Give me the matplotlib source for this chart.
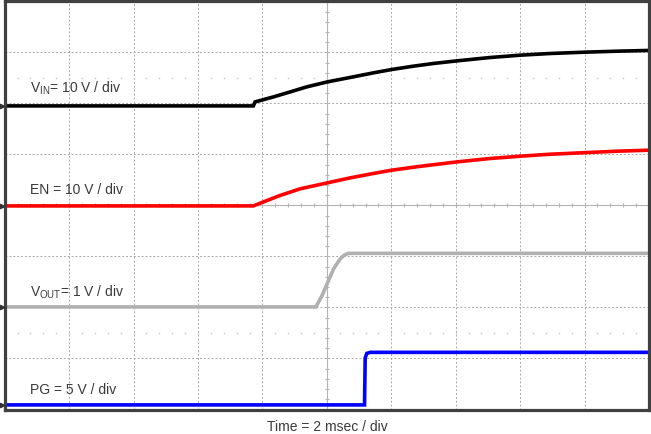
import numpy as np
import matplotlib.pyplot as plt

plt.rcParams['font.family'] = ['Liberation Sans', 'DejaVu Sans']
plt.rcParams['mathtext.fontset'] = 'custom'
plt.rcParams['mathtext.rm'] = 'Liberation Sans'

# time axis: 2 ms / div, 10 divisions
t_vin = [0.0, 7.72, 7.77, 8.34, 8.86, 9.37, 10.01, 10.72, 11.44, 12.01, 12.68,
         13.30, 14.03, 15.06, 16.0, 16.93, 17.96, 19.0, 20.0]
v_vin = [0.0, 0.0, 0.78, 1.76, 2.74, 3.72, 4.70, 5.57, 6.47, 7.13, 7.78,
         8.31, 8.82, 9.48, 9.94, 10.27, 10.52, 10.72, 10.87]               # V

t_en = [0.0, 7.72, 8.03, 8.55, 9.17, 10.01, 10.72, 11.44, 12.01, 12.89,
        14.03, 15.06, 16.0, 16.93, 17.96, 19.0, 20.0]
v_en = [0.0, 0.0, 0.78, 2.05, 3.35, 4.51, 5.49, 6.35, 7.0, 7.75,
        8.62, 9.29, 9.74, 10.13, 10.42, 10.72, 10.92]                      # V

t_vout = [0.0, 9.66, 9.85, 10.04, 10.22, 10.41, 10.53, 10.66, 20.0]
v_vout = [0.0, 0.0, 0.22, 0.50, 0.76, 0.94, 1.01, 1.05, 1.05]             # V

t_pg = [0.0, 11.17, 11.19, 11.24, 11.35, 20.0]
v_pg = [0.0, 0.0, 4.6, 5.05, 5.15, 5.15]                                   # V

# volts per division and ground marker position (div from bottom)
scale = {'vin': 10, 'en': 10, 'vout': 1, 'pg': 5}
ground = {'vin': 5.95, 'en': 3.99, 'vout': 2.01, 'pg': 0.09}
colors = {'vin': '#000000', 'en': '#ff0000', 'vout': '#b0b0b0', 'pg': '#0000ff'}

labels = {
    'vin': r'V$_{\mathrm{IN}}$= 10 V / div',
    'en': 'EN = 10 V / div',
    'vout': r'V$_{\mathrm{OUT}}$= 1 V / div',
    'pg': 'PG = 5 V / div',
}
label_y = {'vin': 93, 'en': 194, 'vout': 296.5, 'pg': 394}   # baseline px from top

W, H = 651, 434
fig = plt.figure(figsize=(W / 100, H / 100), dpi=100)
ax = fig.add_axes([4.7 / W, (H - 409.5) / H, 644.3 / W, 408.2 / H])
ax.set_xlim(0, 20)
ax.set_ylim(0, 8)

# dotted graticule
grid_c = '#a8a8a8'
for k in range(1, 10):
    if k != 5:
        ax.axvline(k * 2, color=grid_c, lw=0.7, ls=(0, (2, 2)), zorder=1)
for k in range(1, 8):
    if k != 4:
        ax.axhline(k, color=grid_c, lw=0.7, ls=(0, (2, 2)), zorder=1)

# centre cross with minor ticks
ax.axvline(10, color='#b4b4b4', lw=0.8, zorder=1)
ax.axhline(4, color='#b4b4b4', lw=0.8, zorder=1)
minor_x = np.arange(0.4, 20, 0.4)
minor_y = np.arange(0.2, 8, 0.2)
ax.plot(minor_x, np.full_like(minor_x, 4), ls='none', marker='|', ms=3.5,
        mew=0.8, color='#b4b4b4', zorder=1)
ax.plot(np.full_like(minor_y, 10), minor_y, ls='none', marker='_', ms=3.5,
        mew=0.8, color='#b4b4b4', zorder=1)
for yy in (1.5, 6.5):
    ax.plot(minor_x, np.full_like(minor_x, yy), ls='none', marker='s', ms=1.0,
            mew=0, color='#c8c8c8', zorder=1)

series = {
    'vin': (t_vin, v_vin),
    'en': (t_en, v_en),
    'vout': (t_vout, v_vout),
    'pg': (t_pg, v_pg),
}
for key, (t, v) in series.items():
    y = ground[key] + np.array(v) / scale[key]
    ax.plot(t, y, color=colors[key], lw=2.6, solid_joinstyle='miter', zorder=3)
    # ground reference arrow on the left edge
    ax.plot([-0.004], [ground[key]], marker='>', ms=3.2, color='#303030',
            transform=ax.get_yaxis_transform(), clip_on=False, zorder=5)
    fig.text(30 / W, (H - label_y[key]) / H, labels[key], fontsize=10,
             color='#3a3a3a', va='baseline', ha='left')

fig.text(327 / W, (H - 431) / H, 'Time = 2 msec / div', fontsize=10,
         color='#3a3a3a', va='baseline', ha='center')

ax.set_xticks([])
ax.set_yticks([])
for s in ax.spines.values():
    s.set_color('#404040')
    s.set_linewidth(2.3)
    s.set_zorder(4)

fig.savefig('out.png', dpi=100)
